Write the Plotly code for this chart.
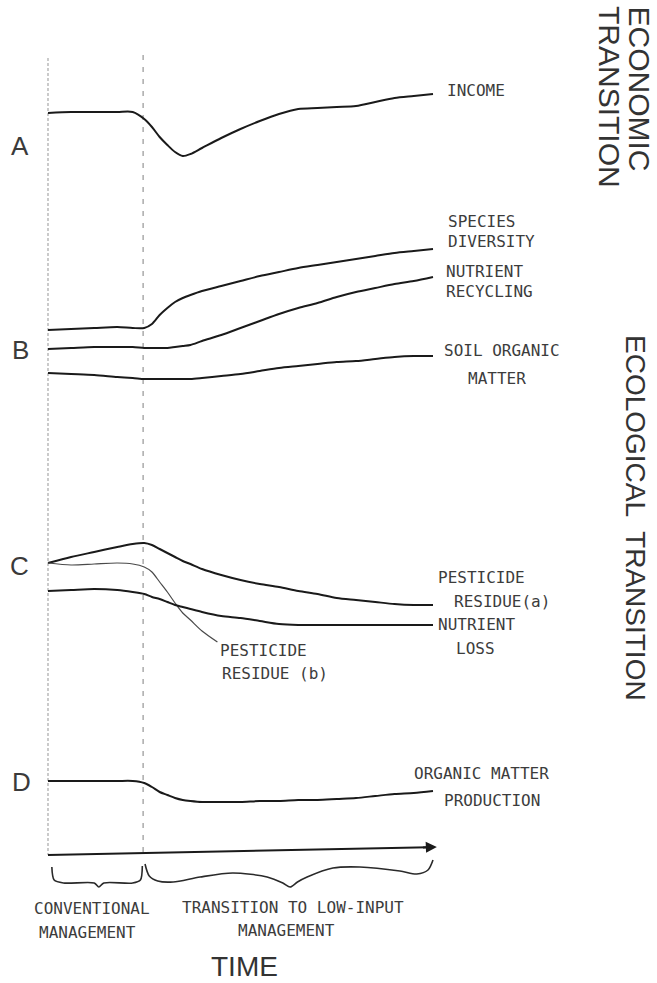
import plotly.graph_objects as go

# ---------------- data ----------------
# time in arbitrary units: 0 = start of record, 100 = end of record
T = [0, 6, 12, 18, 22, 25, 27, 29, 31, 33, 35, 37, 40, 45, 50, 55, 60, 65, 70, 75, 80, 85, 90, 95, 100]
T_TRANSITION = 24.7

# panel A (relative level, 0 = conventional level)
income = [-1, 0, 0, 0, 0, -7, -15, -25, -33, -40, -44, -42, -36, -26, -17, -9, -2, 3, 4, 5, 6, 10, 14, 16, 18]

# panel B
species_diversity = [18, 19, 20, 21, 20, 20, 24, 33, 40, 46, 50, 53, 57, 62, 67, 72, 76, 80, 83, 86, 89, 92, 95, 97, 99]
nutrient_recycling = [-1, 0, 1, 1, 1, 0, 0, 0, 0, 1, 2, 3, 7, 13, 20, 27, 34, 40, 45, 51, 56, 60, 64, 67, 71]
soil_organic_matter = [-25, -26, -27, -29, -30, -31, -31, -31, -31, -31, -31, -31, -30, -28, -26, -23, -20, -18, -16, -14, -13, -11, -9, -8, -8]

# panel C
pesticide_residue_a = [0, 6, 11, 16, 19, 20, 18, 14, 10, 6, 2, -1, -6, -12, -17, -21, -24, -28, -31, -35, -37, -39, -41, -42, -42]
T_B = [0, 6, 12, 18, 22, 25, 27, 29, 31, 33, 35, 37, 40, 44]
pesticide_residue_b = [0, -2, -1, 0, -1, -4, -9, -19, -29, -40, -50, -57, -68, -79]
nutrient_loss = [-28, -27, -26, -27, -29, -31, -34, -36, -39, -42, -44, -46, -49, -53, -55, -58, -61, -62, -62, -62, -62, -62, -62, -62, -62]

# panel D
organic_matter_production = [0, 0, 0, 0, 0, -2, -6, -11, -14, -17, -19, -20, -21, -21, -21, -20, -20, -19, -19, -18, -17, -15, -13, -12, -10]

# time axis and braces (panel D levels)
time_axis_t = [0, 99]
time_axis_y = [-74, -66.2]
brace_conv_t = [1, 1.6, 4, 12, 13.2, 14.5, 22, 24, 24.5]
brace_conv_y = [-86, -99, -102, -102, -106, -102, -102, -99, -85]
brace_trans_t = [25.2, 26.3, 28.5, 32.5, 39.5, 48, 56.9, 61, 62.9, 64.8, 67.3, 74, 81, 91.4, 95.8, 98.7, 100]
brace_trans_y = [-83, -95, -100, -101, -96, -92, -96, -102, -106, -101, -96, -87, -86, -90, -93, -89, -79]

# guide lines (panel A levels)
guide_y = [54, -743]

# ---------------- layout helpers ----------------
W, H = 657, 983
X0, XS = 48, 3.85            # pixel of t=0, pixels per time unit
BASE = {"y": 112, "y2": 348, "y3": 563, "y4": 781}   # pixel row of level 0 per panel


def P(x, y):
    return x / W, 1 - y / H


fig = go.Figure()

INK = "#1a1a1a"


def curve(t, v, axis, width=2.0, color=INK, dash=None):
    fig.add_trace(go.Scatter(
        x=t, y=v, mode="lines", yaxis=axis, hoverinfo="skip",
        line=dict(color=color, width=width, shape="spline", smoothing=0.8, dash=dash),
        showlegend=False))


# guides
fig.add_trace(go.Scatter(x=[0, 0], y=guide_y, mode="lines", yaxis="y", showlegend=False,
                         line=dict(color="#a8a8a8", width=1.2, dash="3px,2px"), hoverinfo="skip"))
fig.add_trace(go.Scatter(x=[T_TRANSITION, T_TRANSITION], y=[guide_y[0] + 3, guide_y[1]], mode="lines",
                         yaxis="y", showlegend=False,
                         line=dict(color="#8c8c8c", width=1.1, dash="5px,7px"), hoverinfo="skip"))

curve(T, income, "y")
curve(T, species_diversity, "y2")
curve(T, nutrient_recycling, "y2")
curve(T, soil_organic_matter, "y2")
curve(T, pesticide_residue_a, "y3")
curve(T_B, pesticide_residue_b, "y3", width=1.2, color="#4a4a4a")
curve(T, nutrient_loss, "y3")
curve(T, organic_matter_production, "y4")

# time axis
fig.add_trace(go.Scatter(x=time_axis_t, y=time_axis_y, mode="lines", yaxis="y4", showlegend=False,
                         line=dict(color=INK, width=2), hoverinfo="skip"))
curve(brace_conv_t, brace_conv_y, "y4", width=1.6, color="#2a2a2a")
curve(brace_trans_t, brace_trans_y, "y4", width=1.6, color="#2a2a2a")

ann = []
# arrow head of time axis
ann.append(dict(x=101, y=-65.9, xref="x", yref="y4", ax=97, ay=-66.5, axref="x", ayref="y4",
                showarrow=True, arrowhead=2, arrowsize=1.1, arrowwidth=2, arrowcolor=INK, text=""))

LBL = dict(family="DejaVu Sans Mono", size=16, color="#3c3c3c")


def label(text, x, y, font=LBL, xanchor="left", angle=0, yanchor="middle"):
    px, py = P(x, y)
    ann.append(dict(text=text, x=px, y=py, xref="paper", yref="paper", showarrow=False,
                    xanchor=xanchor, yanchor=yanchor, font=font, textangle=angle, borderpad=0))


label("INCOME", 446, 91)
label("SPECIES", 447, 221)
label("DIVERSITY", 447, 241)
label("NUTRIENT", 445, 271)
label("RECYCLING", 445, 291)
label("SOIL ORGANIC", 443, 350)
label("MATTER", 467, 378)
label("PESTICIDE", 437, 577)
label("RESIDUE(a)", 453, 601)
label("NUTRIENT", 437, 624)
label("LOSS", 455, 648)
label("PESTICIDE", 219, 650)
label("RESIDUE (b)", 221, 673)
label("ORGANIC MATTER", 413, 773)
label("PRODUCTION", 443, 800)
label("CONVENTIONAL", 33, 908)
label("MANAGEMENT", 38, 932)
label("TRANSITION TO LOW-INPUT", 181, 907)
label("MANAGEMENT", 237, 930)

BIG = dict(family="Liberation Sans", size=26, color="#3a3a3a")
label("A", 20, 146, font=BIG, xanchor="center")
label("B", 20, 350, font=BIG, xanchor="center")
label("C", 19, 566, font=BIG, xanchor="center")
label("D", 21, 782, font=BIG, xanchor="center")
label("TIME", 244, 983, font=dict(family="Liberation Sans", size=28, color="#333333"),
      xanchor="center", yanchor="bottom")

VT = dict(family="Liberation Sans", size=30, color="#333333")
label("ECONOMIC", 639, 5, font=VT, xanchor="center", angle=90, yanchor="top")
label("TRANSITION", 610, 5, font=VT, xanchor="center", angle=90, yanchor="top")
label("ECOLOGICAL  TRANSITION", 636, 334, font=dict(family="Liberation Sans", size=28, color="#333333"),
      xanchor="center", angle=90, yanchor="top")

layout = dict(
    width=W, height=H, autosize=False,
    margin=dict(l=0, r=0, t=0, b=0, pad=0),
    paper_bgcolor="white", plot_bgcolor="white",
    showlegend=False,
    xaxis=dict(range=[-X0 / XS, (W - X0) / XS], visible=False, fixedrange=True),
    annotations=ann,
)
for i, (name, b) in enumerate(BASE.items()):
    key = "yaxis" if name == "y" else "yaxis" + name[1:]
    ax = dict(range=[b - H, b], visible=False, fixedrange=True, domain=[0, 1])
    if name != "y":
        ax["overlaying"] = "y"
    layout[key] = ax

fig.update_layout(**layout)
fig.write_html("out.html", config={"displayModeBar": False, "staticPlot": True},
               post_script="document.body.style.margin='0';document.body.style.padding='0';")
